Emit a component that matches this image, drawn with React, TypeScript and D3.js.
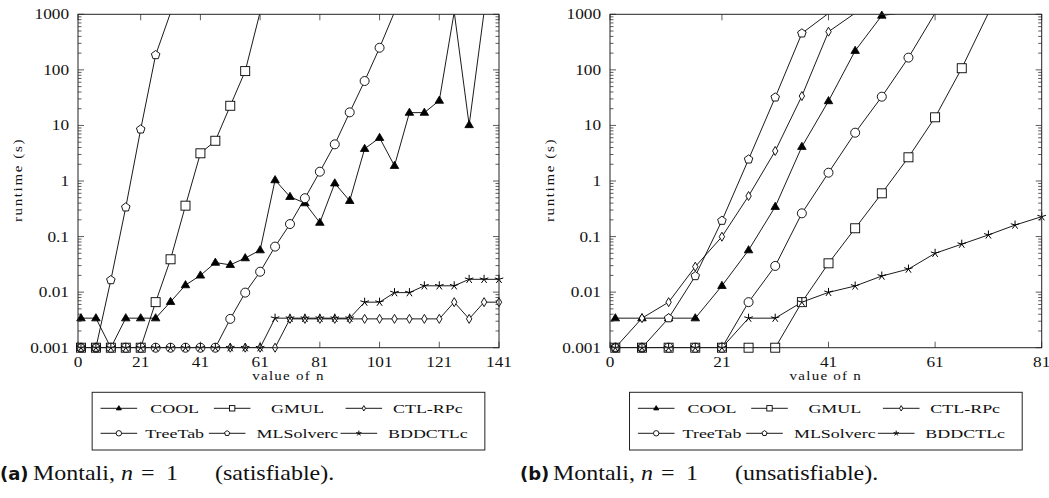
import * as d3 from "d3";
import React from "react";

// n values sampled every 5 steps
const nLeft = [1, 6, 11, 16, 21, 26, 31, 36, 41, 46, 51, 56, 61, 66, 71, 76, 81, 86, 91, 96, 101, 106, 111, 116, 121, 126, 131, 136, 141];
const nRight = [1, 6, 11, 16, 21, 26, 31, 36, 41, 46, 51, 56, 61, 66, 71, 76, 81];

const xTicksLeft = [0, 21, 41, 61, 81, 101, 121, 141];
const xTicksRight = [0, 21, 41, 61, 81];
const yTicks = [0.001, 0.01, 0.1, 1, 10, 100, 1000];
const yTickLabels = ["0.001", "0.01", "0.1", "1", "10", "100", "1000"];

const solvers = ["COOL", "GMUL", "CTL-RPc", "TreeTab", "MLSolverc", "BDDCTLc"];
const marks = ["triangle", "square", "diamond", "circle", "pentagon", "star"];

// satisfiable (values > 1000 = timeout, clipped)
const coolL = [0.0034, 0.0034, 0.001, 0.0034, 0.0034, 0.0034, 0.0067, 0.0134, 0.02, 0.034, 0.031, 0.041, 0.057, 1.04, 0.52, 0.4, 0.178, 0.91, 0.44, 3.8, 6.0, 1.88, 17, 17, 28, 1100, 10.2, 1100, 1100];
const gmulL = [0.001, 0.001, 0.001, 0.001, 0.001, 0.0066, 0.039, 0.36, 3.15, 5.3, 22.6, 95, 1100];
const ctlL = [0.001, 0.001, 0.001, 0.001, 0.001, 0.001, 0.001, 0.001, 0.001, 0.001, 0.001, 0.001, 0.001, 0.001, 0.0033, 0.0033, 0.0033, 0.0033, 0.0033, 0.0033, 0.0033, 0.0033, 0.0033, 0.0033, 0.0033, 0.0066, 0.0033, 0.0066, 0.0066];
const treeL = [0.001, 0.001, 0.001, 0.001, 0.001, 0.001, 0.001, 0.001, 0.001, 0.001, 0.0033, 0.0098, 0.0233, 0.066, 0.168, 0.49, 1.47, 4.57, 17.2, 63, 250, 1100];
const mlsL = [0.001, 0.001, 0.0165, 0.336, 8.5, 185, 1070];
const bddL = [0.001, 0.001, 0.001, 0.001, 0.001, 0.001, 0.001, 0.001, 0.001, 0.001, 0.001, 0.001, 0.001, 0.0034, 0.0034, 0.0034, 0.0034, 0.0034, 0.0034, 0.0066, 0.0066, 0.0098, 0.0098, 0.013, 0.013, 0.013, 0.017, 0.017, 0.017];

// unsatisfiable
const coolR = [0.0034, 0.0034, 0.0034, 0.0034, 0.013, 0.057, 0.344, 4.14, 27.5, 221, 950, 1100];
const gmulR = [0.001, 0.001, 0.001, 0.001, 0.001, 0.001, 0.001, 0.0066, 0.033, 0.141, 0.6, 2.67, 14, 107, 1050];
const ctlR = [0.001, 0.0034, 0.0066, 0.0287, 0.0995, 0.537, 3.47, 33.8, 486, 1050];
const treeR = [0.001, 0.001, 0.001, 0.001, 0.001, 0.0066, 0.0296, 0.262, 1.41, 7.4, 32.9, 166, 1050];
const mlsR = [0.001, 0.001, 0.0034, 0.0195, 0.193, 2.45, 32, 454, 1040];
const bddR = [0.001, 0.001, 0.001, 0.001, 0.001, 0.0034, 0.0034, 0.0066, 0.0099, 0.0129, 0.0195, 0.026, 0.05, 0.073, 0.107, 0.161, 0.228];

const serif = "'Liberation Serif', 'DejaVu Serif', serif";

function Marker({ type, x, y, r }) {
  const s = "#000";
  if (type === "triangle") {
    const p = [[x, y - r], [x + r * 0.95, y + r * 0.6], [x - r * 0.95, y + r * 0.6]];
    return <polygon points={p.join(" ")} fill="#000" stroke={s} strokeWidth={0.8} />;
  }
  if (type === "square") {
    return <rect x={x - r} y={y - r} width={2 * r} height={2 * r} fill="#fff" stroke={s} strokeWidth={0.9} />;
  }
  if (type === "diamond") {
    const p = [[x, y - r], [x + r * 0.6, y], [x, y + r], [x - r * 0.6, y]];
    return <polygon points={p.join(" ")} fill="#fff" stroke={s} strokeWidth={0.9} />;
  }
  if (type === "circle") {
    return <circle cx={x} cy={y} r={r} fill="#fff" stroke={s} strokeWidth={0.9} />;
  }
  if (type === "pentagon") {
    const p = d3.range(5).map((i) => {
      const a = -Math.PI / 2 + (i * 2 * Math.PI) / 5;
      return [x + r * Math.cos(a), y + r * Math.sin(a)];
    });
    return <polygon points={p.join(" ")} fill="#fff" stroke={s} strokeWidth={0.9} />;
  }
  // star: five spokes
  const d = d3.range(5).map((i) => {
    const a = -Math.PI / 2 + (i * 2 * Math.PI) / 5;
    return `M${x},${y}L${x + r * Math.cos(a)},${y + r * Math.sin(a)}`;
  }).join("");
  return <path d={d} stroke={s} strokeWidth={1} fill="none" />;
}

function SText({ x, y, k = 1.2, size, anchor = "start", children, style = {}, rotate = 0 }) {
  return (
    <text
      transform={`translate(${x},${y}) rotate(${rotate}) scale(${k},1)`}
      textAnchor={anchor}
      fontFamily={serif}
      fontSize={size}
      fill="#111"
      style={style}
    >
      {children}
    </text>
  );
}

function Chart({ id, x0, x1, xMax, ns, xTicks, data }) {
  const top = 14.3;
  const bottom = 347.7;
  const x = d3.scaleLinear().domain([0, xMax]).range([x0, x1]);
  const y = d3.scaleLog().domain([0.001, 1000]).range([bottom, top]);
  const minor = [];
  for (let e = -3; e < 3; e++) for (let m = 2; m <= 9; m++) minor.push(m * Math.pow(10, e));
  const line = d3
    .line()
    .x((d) => x(d[0]))
    .y((d) => y(d[1]));
  const cx = (x0 + x1) / 2;
  const lw = 392.7;
  const lx = cx - lw / 2;
  const ly = 392.3;
  const rowY = [16, 41];
  const textC = [82.5, 205.3, 335.7];
  const lineStart = [
    [8.4, 121.7, 253.4],
    [8.4, 116.7, 248.4],
  ];

  return (
    <g>
      <defs>
        <clipPath id={id}>
          <rect x={x0} y={top} width={x1 - x0} height={bottom - top} />
        </clipPath>
      </defs>
      {/* ticks */}
      <g stroke="#333" strokeWidth={0.8}>
        {yTicks.map((t) => (
          <g key={t}>
            <line x1={x0} x2={x0 + 6} y1={y(t)} y2={y(t)} />
            <line x1={x1} x2={x1 - 6} y1={y(t)} y2={y(t)} />
          </g>
        ))}
        {minor.map((t) => (
          <g key={t}>
            <line x1={x0} x2={x0 + 3.5} y1={y(t)} y2={y(t)} />
            <line x1={x1} x2={x1 - 3.5} y1={y(t)} y2={y(t)} />
          </g>
        ))}
        {xTicks.map((t) => (
          <g key={t}>
            <line x1={x(t)} x2={x(t)} y1={bottom} y2={bottom - 6} />
            <line x1={x(t)} x2={x(t)} y1={top} y2={top + 6} />
          </g>
        ))}
      </g>
      {yTicks.map((t, i) => (
        <SText key={t} x={x0 - 9} y={y(t) + 5} size={15} k={1.15} anchor="end">
          {yTickLabels[i]}
        </SText>
      ))}
      {xTicks.map((t) => (
        <SText key={t} x={x(t)} y={366.5} size={15} k={1.15} anchor="middle">
          {t}
        </SText>
      ))}
      <SText x={cx} y={380} size={12} k={1.25} anchor="middle" style={{ letterSpacing: "1px" }}>
        value of n
      </SText>
      <SText x={x0 - 56} y={180} size={12} k={1.25} anchor="middle" rotate={-90} style={{ letterSpacing: "1.3px" }}>
        runtime (s)
      </SText>
      {/* series */}
      <g clipPath={`url(#${id})`}>
        {data.map((vals, si) => (
          <path
            key={si}
            d={line(vals.map((v, i) => [ns[i], v]))}
            fill="none"
            stroke="#000"
            strokeWidth={0.9}
          />
        ))}
      </g>
      {data.map((vals, si) =>
        vals.map((v, i) =>
          v <= 1000 ? <Marker key={si + "-" + i} type={marks[si]} x={x(ns[i])} y={y(v)} r={4.5} /> : null
        )
      )}
      <rect x={x0} y={top} width={x1 - x0} height={bottom - top} fill="none" stroke="#222" strokeWidth={1} />
      {/* legend */}
      <rect x={lx} y={ly} width={lw} height={57.7} fill="#fff" stroke="#222" strokeWidth={1} />
      {solvers.map((name, i) => {
        const row = Math.floor(i / 3);
        const col = i % 3;
        const sx = lx + lineStart[row][col];
        const yy = ly + rowY[row];
        return (
          <g key={name}>
            <line x1={sx} x2={sx + 36.6} y1={yy} y2={yy} stroke="#000" strokeWidth={0.9} />
            <Marker type={marks[i]} x={sx + 18.3} y={yy} r={2.7} />
            <SText x={lx + textC[col]} y={yy + 4.5} size={13} k={1.38} anchor="middle">
              {name}
            </SText>
          </g>
        );
      })}
    </g>
  );
}

function Caption({ x, tag, kind }) {
  return (
    <g>
      <text x={x} y={480} fontFamily="'DejaVu Sans', sans-serif" fontWeight="bold" fontSize={18} fill="#111">
        {tag}
      </text>
      <SText x={x + 33} y={480} size={20} k={1.2}>Montali,</SText>
      <SText x={x + 121} y={480} size={20} k={1.2} style={{ fontStyle: "italic" }}>n</SText>
      <SText x={x + 141} y={480} size={20} k={1.2}>=</SText>
      <SText x={x + 166} y={480} size={20} k={1.2}>1</SText>
      <SText x={x + 215} y={480} size={20} k={1.2}>{kind}</SText>
    </g>
  );
}

export default function App() {
  return (
    <svg width={1049} height={498} style={{ position: "absolute", left: 0, top: 0, background: "#fff" }}>
      <rect width={1049} height={498} fill="#fff" />
      <Chart
        id="clipA"
        x0={78}
        x1={499}
        xMax={141}
        ns={nLeft}
        xTicks={xTicksLeft}
        data={[coolL, gmulL, ctlL, treeL, mlsL, bddL]}
      />
      <Chart
        id="clipB"
        x0={610}
        x1={1041.7}
        xMax={81}
        ns={nRight}
        xTicks={xTicksRight}
        data={[coolR, gmulR, ctlR, treeR, mlsR, bddR]}
      />
      <Caption x={0} tag="(a)" kind="(satisfiable)." />
      <Caption x={520} tag="(b)" kind="(unsatisfiable)." />
    </svg>
  );
}
